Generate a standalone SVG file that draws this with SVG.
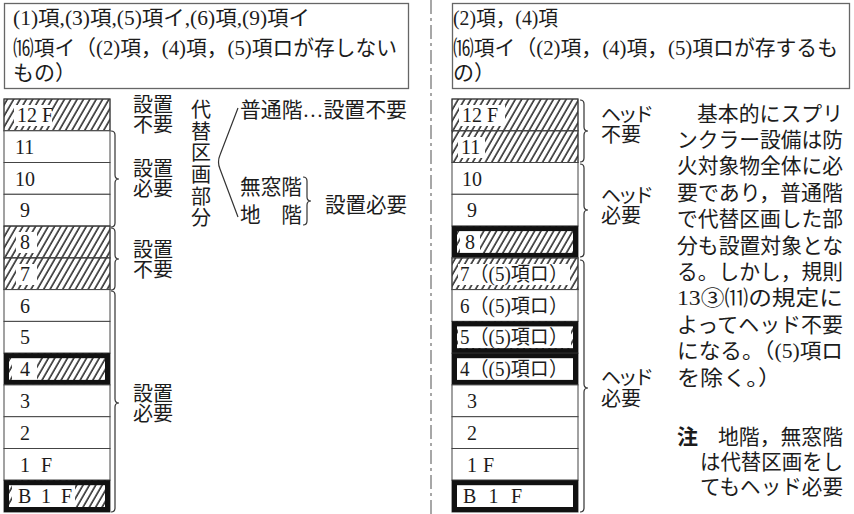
<svg xmlns="http://www.w3.org/2000/svg" width="854" height="514" viewBox="0 0 854 514">
<defs>
<pattern id="hatch" patternUnits="userSpaceOnUse" width="5.5" height="10" patternTransform="rotate(30)">
<line x1="1" y1="0" x2="1" y2="10" stroke="#111" stroke-width="1.4"/>
</pattern>
<style>
text{font-family:"Liberation Serif","Noto Sans CJK JP",serif;fill:#1c1c1c}
.hd{font-size:21px}
.fl{font-size:20px}
.lb{font-size:20px}
.tx{font-size:21px}
.cell{fill:#fff;stroke:#444;stroke-width:1}
.hat{fill:url(#hatch);stroke:none}
.wb{fill:#fff}
.thick{fill:none;stroke:#111;stroke-width:5}
.box{fill:#fff;stroke:#666;stroke-width:1.3}
.br{fill:none;stroke:#333;stroke-width:1.2}
</style>
</defs>
<rect width="854" height="514" fill="#fff"/>

<!-- divider -->
<line x1="431" y1="0" x2="431" y2="514" stroke="#8a8a8a" stroke-width="1.5" stroke-dasharray="14 4 3 4"/>

<!-- headers -->
<g id="header-left">
<rect class="box" x="4.5" y="3.5" width="404" height="85"/>
<text class="hd" x="13" y="25" textLength="297" lengthAdjust="spacingAndGlyphs">(1)項,(3)項,(5)項イ,(6)項,(9)項イ</text>
<text class="hd" x="13" y="55" textLength="384" lengthAdjust="spacingAndGlyphs">⒃項イ（(2)項，(4)項，(5)項ロが存しない</text>
<text class="hd" x="13" y="80">もの）</text>
</g>
<g id="header-right">
<rect class="box" x="452.5" y="3.5" width="397" height="85"/>
<text class="hd" x="453" y="25" textLength="105" lengthAdjust="spacingAndGlyphs">(2)項，(4)項</text>
<text class="hd" x="453" y="55" textLength="385" lengthAdjust="spacingAndGlyphs">⒃項イ（(2)項，(4)項，(5)項ロが存するも</text>
<text class="hd" x="453" y="80">の）</text>
</g>

<!-- left building -->
<g id="left-building">
<g id="L-12F"><rect class="cell" x="4" y="99" width="106" height="31.8"/><rect class="hat" x="4" y="99" width="106" height="31.8"/><rect class="wb" x="14" y="105" width="38" height="21"/><rect fill="none" stroke="#444" x="4" y="99" width="106" height="31.8"/><text class="fl" x="17" y="122">12 F</text></g>
<g id="L-11"><rect class="cell" x="4" y="130.8" width="106" height="31.7"/><text class="fl" x="15" y="153.8">11</text></g>
<g id="L-10"><rect class="cell" x="4" y="162.5" width="106" height="31.8"/><text class="fl" x="15" y="185.5">10</text></g>
<g id="L-9"><rect class="cell" x="4" y="194.3" width="106" height="31.8"/><text class="fl" x="20" y="217.3">9</text></g>
<g id="L-8"><rect class="cell" x="4" y="226.1" width="106" height="31.8"/><rect class="hat" x="4" y="226.1" width="106" height="31.8"/><rect class="wb" x="16" y="232" width="21" height="21"/><rect fill="none" stroke="#444" x="4" y="226.1" width="106" height="31.8"/><text class="fl" x="20" y="249.1">8</text></g>
<g id="L-7"><rect class="cell" x="4" y="257.9" width="106" height="31.7"/><rect class="hat" x="4" y="257.9" width="106" height="31.7"/><rect class="wb" x="16" y="264" width="21" height="21"/><rect fill="none" stroke="#444" x="4" y="257.9" width="106" height="31.7"/><text class="fl" x="20" y="280.9">7</text></g>
<g id="L-6"><rect class="cell" x="4" y="289.6" width="106" height="31.8"/><text class="fl" x="20" y="312.6">6</text></g>
<g id="L-5"><rect class="cell" x="4" y="321.4" width="106" height="31.8"/><text class="fl" x="20" y="344.4">5</text></g>
<g id="L-4"><rect class="cell" x="4" y="353.2" width="106" height="31.7"/><rect class="hat" x="4" y="353.2" width="106" height="31.7"/><rect class="wb" x="12" y="358" width="25" height="22"/><rect class="thick" x="6.5" y="355.7" width="101" height="26.7"/><text class="fl" x="20" y="376.2">4</text></g>
<g id="L-3"><rect class="cell" x="4" y="384.9" width="106" height="31.8"/><text class="fl" x="20" y="407.9">3</text></g>
<g id="L-2"><rect class="cell" x="4" y="416.7" width="106" height="31.8"/><text class="fl" x="20" y="439.7">2</text></g>
<g id="L-1F"><rect class="cell" x="4" y="448.5" width="106" height="31.7"/><text class="fl" x="20" y="471.5" textLength="32" lengthAdjust="spacing">1 F</text></g>
<g id="L-B1F"><rect class="cell" x="4" y="480.2" width="106" height="31.8"/><rect class="hat" x="4" y="480.2" width="106" height="31.8"/><rect class="wb" x="12" y="485" width="63" height="22"/><rect class="thick" x="6.5" y="482.7" width="101" height="26.8"/><text class="fl" x="18" y="503.2" textLength="54" lengthAdjust="spacing">B 1 F</text></g>
</g>

<!-- right building -->
<g id="right-building">
<g id="R-12F"><rect class="cell" x="452" y="99" width="126" height="31.8"/><rect class="hat" x="452" y="99" width="126" height="31.8"/><rect class="wb" x="459" y="105" width="46" height="21"/><rect fill="none" stroke="#444" x="452" y="99" width="126" height="31.8"/><text class="fl" x="462" y="122">12 F</text></g>
<g id="R-11"><rect class="cell" x="452" y="130.8" width="126" height="31.7"/><rect class="hat" x="452" y="130.8" width="126" height="31.7"/><rect class="wb" x="458" y="137" width="27" height="21"/><rect fill="none" stroke="#444" x="452" y="130.8" width="126" height="31.7"/><text class="fl" x="461" y="153.8">11</text></g>
<g id="R-10"><rect class="cell" x="452" y="162.5" width="126" height="31.8"/><text class="fl" x="462" y="185.5">10</text></g>
<g id="R-9"><rect class="cell" x="452" y="194.3" width="126" height="31.8"/><text class="fl" x="467" y="217.3">9</text></g>
<g id="R-8"><rect class="cell" x="452" y="226.1" width="126" height="31.8"/><rect class="hat" x="452" y="226.1" width="126" height="31.8"/><rect class="wb" x="460" y="231" width="20" height="22"/><rect class="thick" x="454.5" y="228.6" width="121" height="26.8"/><text class="fl" x="465" y="249.1">8</text></g>
<g id="R-7"><rect class="cell" x="452" y="257.9" width="126" height="31.7"/><rect class="hat" x="452" y="257.9" width="126" height="31.7"/><rect class="wb" x="458" y="264" width="112" height="21"/><rect fill="none" stroke="#444" x="452" y="257.9" width="126" height="31.7"/><text class="fl" x="460" y="280.9" textLength="108" lengthAdjust="spacingAndGlyphs">7（(5)項ロ）</text></g>
<g id="R-6"><rect class="cell" x="452" y="289.6" width="126" height="31.8"/><text class="fl" x="460" y="312.6" textLength="108" lengthAdjust="spacingAndGlyphs">6（(5)項ロ）</text></g>
<g id="R-5"><rect class="cell" x="452" y="321.4" width="126" height="31.8"/><rect class="hat" x="452" y="321.4" width="126" height="31.8"/><rect class="wb" x="458" y="326" width="113" height="22"/><rect class="thick" x="454.5" y="323.9" width="121" height="26.8"/><text class="fl" x="460" y="344.4" textLength="108" lengthAdjust="spacingAndGlyphs">5（(5)項ロ）</text></g>
<g id="R-4"><rect class="cell" x="452" y="353.2" width="126" height="31.7"/><rect class="thick" x="454.5" y="355.7" width="121" height="26.7"/><text class="fl" x="460" y="376.2" textLength="108" lengthAdjust="spacingAndGlyphs">4（(5)項ロ）</text></g>
<g id="R-3"><rect class="cell" x="452" y="384.9" width="126" height="31.8"/><text class="fl" x="467" y="407.9">3</text></g>
<g id="R-2"><rect class="cell" x="452" y="416.7" width="126" height="31.8"/><text class="fl" x="467" y="439.7">2</text></g>
<g id="R-1F"><rect class="cell" x="452" y="448.5" width="126" height="31.7"/><text class="fl" x="467" y="471.5" textLength="27" lengthAdjust="spacing">1 F</text></g>
<g id="R-B1F"><rect class="cell" x="452" y="480.2" width="126" height="31.8"/><rect class="thick" x="454.5" y="482.7" width="121" height="26.8"/><text class="fl" x="463" y="503.2" textLength="59" lengthAdjust="spacing">B 1 F</text></g>
</g>

<!-- connectors: braces and branch lines -->
<g id="connectors">
<path class="br" d="M111,131 Q115,131 115,135 L115,175 Q115,179 119,179 Q115,179 115,183 L115,223 Q115,227 111,227"/>
<path class="br" d="M111,228 Q115,228 115,232 L115,255 Q115,259 119,259 Q115,259 115,263 L115,286 Q115,290 111,290"/>
<path class="br" d="M111,291 Q115,291 115,295 L115,399 Q115,403 119,403 Q115,403 115,407 L115,508 Q115,512 111,512"/>
<path class="br" d="M580,100 Q584,100 584,104 L584,127 Q584,131 588,131 Q584,131 584,135 L584,158 Q584,162 580,162"/>
<path class="br" d="M580,164 Q584,164 584,168 L584,206 Q584,210 588,210 Q584,210 584,214 L584,253 Q584,257 580,257"/>
<path class="br" d="M580,260 Q584,260 584,264 L584,384 Q584,388 588,388 Q584,388 584,392 L584,508 Q584,512 580,512"/>
<path class="br" d="M303,177 Q307,177 307,181 L307,197 Q307,201 311,201 Q307,201 307,205 L307,221 Q307,225 303,225"/>
<path class="br" d="M238,108 L220,155 Q217,162 220,169 L238,217"/>
</g>

<!-- left labels -->
<g id="left-labels">
<text class="lb" x="133" y="112">設置</text><text class="lb" x="133" y="132">不要</text>
<text class="lb" x="133" y="176">設置</text><text class="lb" x="133" y="196">必要</text>
<text class="lb" x="133" y="257">設置</text><text class="lb" x="133" y="277">不要</text>
<text class="lb" x="133" y="401">設置</text><text class="lb" x="133" y="421">必要</text>
</g>

<g id="alt-section">
<text class="lb" text-anchor="middle" x="201" y="117">代</text>
<text class="lb" text-anchor="middle" x="201" y="139">替</text>
<text class="lb" text-anchor="middle" x="201" y="160">区</text>
<text class="lb" text-anchor="middle" x="201" y="182">画</text>
<text class="lb" text-anchor="middle" x="201" y="204">部</text>
<text class="lb" text-anchor="middle" x="201" y="225">分</text>
<text class="tx" x="240" y="117" textLength="167" lengthAdjust="spacingAndGlyphs">普通階…設置不要</text>
<text class="tx" x="240" y="194" textLength="62" lengthAdjust="spacingAndGlyphs">無窓階</text>
<text class="tx" x="240" y="222" textLength="62" lengthAdjust="spacingAndGlyphs">地　階</text>
<text class="tx" x="325" y="212" textLength="82" lengthAdjust="spacingAndGlyphs">設置必要</text>
</g>

<!-- right labels -->
<g id="right-labels">
<text class="lb" x="601" y="122" textLength="53" lengthAdjust="spacing">ヘッド</text><text class="lb" x="601" y="142">不要</text>
<text class="lb" x="601" y="203" textLength="53" lengthAdjust="spacing">ヘッド</text><text class="lb" x="601" y="223">必要</text>
<text class="lb" x="601" y="385" textLength="53" lengthAdjust="spacing">ヘッド</text><text class="lb" x="601" y="406">必要</text>
</g>

<g id="explanation">
<text class="tx" x="697" y="120.5" textLength="146" lengthAdjust="spacingAndGlyphs">基本的にスプリ</text>
<text class="tx" x="677" y="146.9" textLength="166" lengthAdjust="spacingAndGlyphs">ンクラー設備は防</text>
<text class="tx" x="677" y="173.3" textLength="166" lengthAdjust="spacingAndGlyphs">火対象物全体に必</text>
<text class="tx" x="677" y="199.7" textLength="166" lengthAdjust="spacingAndGlyphs">要であり，普通階</text>
<text class="tx" x="677" y="226.1" textLength="166" lengthAdjust="spacingAndGlyphs">で代替区画した部</text>
<text class="tx" x="677" y="252.5" textLength="166" lengthAdjust="spacingAndGlyphs">分も設置対象とな</text>
<text class="tx" x="677" y="278.9" textLength="166" lengthAdjust="spacingAndGlyphs">る。しかし，規則</text>
<text class="tx" x="677" y="305.3" textLength="166" lengthAdjust="spacingAndGlyphs">13③⑾の規定に</text>
<text class="tx" x="677" y="331.7" textLength="166" lengthAdjust="spacingAndGlyphs">よってヘッド不要</text>
<text class="tx" x="677" y="358.1" textLength="166" lengthAdjust="spacingAndGlyphs">になる。（(5)項ロ</text>
<text class="tx" x="677" y="384.5" textLength="104" lengthAdjust="spacingAndGlyphs">を除く。）</text>
<text class="tx" x="677" y="443.5" font-weight="bold">注</text>
<text class="tx" x="718" y="443.5" textLength="125" lengthAdjust="spacingAndGlyphs">地階，無窓階</text>
<text class="tx" x="700" y="468.5" textLength="143" lengthAdjust="spacingAndGlyphs">は代替区画をし</text>
<text class="tx" x="700" y="493.5" textLength="143" lengthAdjust="spacingAndGlyphs">てもヘッド必要</text>
</g>
</svg>
